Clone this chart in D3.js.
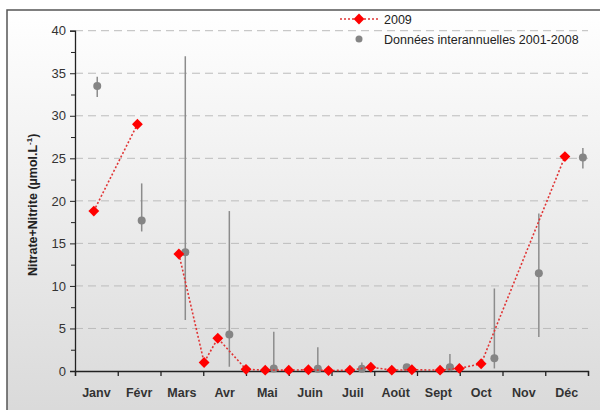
<!DOCTYPE html>
<html>
<head>
<meta charset="utf-8">
<script src="https://cdn.jsdelivr.net/npm/d3@7"></script>
<style>
  html, body { margin: 0; padding: 0; background: #fff; }
  svg { display: block; font-family: "Liberation Sans", Arial, sans-serif; }
</style>
</head>
<body>
<svg id="chart" width="600" height="410"></svg>
<script>
// ---- data ----
const monthLabels = ["Janv","Févr","Mars","Avr","Mai","Juin","Juil","Août","Sept","Oct","Nov","Déc"];
const yTicks = [0,5,10,15,20,25,30,35,40];

// 2009 series (month position, value); null = gap in line
const t2009 = [0.44, 1.46, 2.0, 2.43, 3.02, 3.34, 4.0, 4.45, 5.0, 5.46, 5.93, 6.43, 6.92, 7.41, 7.88, 8.54, 8.99, 9.50, 11.46];
const v2009 = [18.8, 29.0, null, 13.75, 1.0, 3.85, 0.2, 0.1, 0.1, 0.15, 0.05, 0.1, 0.45, 0.1, 0.15, 0.1, 0.3, 0.85, 25.2];

// interannual data 2001-2008 (month position, mean, min, max)
const tClim = [0.52, 1.56, 2.58, 3.61, 4.65, 5.68, 6.71, 7.76, 8.77, 9.81, 10.85, 11.88];
const meanClim = [33.5, 17.7, 13.95, 4.3, 0.3, 0.25, 0.25, 0.45, 0.45, 1.5, 11.5, 25.1];
const loClim = [32.2, 16.4, 6.0, 0.5, 0.1, 0.1, 0.1, 0.2, 0.2, 0.3, 4.0, 23.8];
const hiClim = [34.6, 22.05, 37.0, 18.8, 4.6, 2.8, 1.0, 0.8, 2.0, 9.7, 18.5, 26.2];

const legendLabels = ["2009", "Données interannuelles 2001-2008"];

// ---- layout ----
const svg = d3.select("#chart");
const x = d3.scaleLinear().domain([0, 12]).range([75, 588]);
const y = d3.scaleLinear().domain([0, 40]).range([371, 30.7]);

// background gradient frame
const defs = svg.append("defs");
const grad = defs.append("linearGradient").attr("id", "bg").attr("x1", 0).attr("y1", 0).attr("x2", 0).attr("y2", 1);
grad.append("stop").attr("offset", "0%").attr("stop-color", "#ffffff");
grad.append("stop").attr("offset", "100%").attr("stop-color", "#d9d9d9");
svg.append("rect").attr("x", 7).attr("y", 10).attr("width", 600).attr("height", 410)
  .attr("fill", "url(#bg)").attr("stroke", "#555").attr("stroke-width", 1.5);

// grid lines
svg.append("g").selectAll("line").data(yTicks.filter(d => d > 0)).join("line")
  .attr("x1", x(0)).attr("x2", x(12))
  .attr("y1", d => y(d)).attr("y2", d => y(d))
  .attr("stroke", "#bcbcbc").attr("stroke-width", 1).attr("stroke-dasharray", "8,5");

// y axis
const yAxis = d3.axisLeft(y).tickValues(yTicks).tickSize(5).tickPadding(4).tickFormat(d3.format("d"));
const yg = svg.append("g").attr("transform", `translate(${x(0)},0)`).call(yAxis);
yg.select(".domain").attr("stroke", "#222").attr("stroke-width", 1.3);
yg.selectAll(".tick line").attr("stroke", "#222");
yg.selectAll("text").attr("font-size", 13).attr("fill", "#333");
// minor ticks
const yMinor = d3.axisLeft(y).tickValues(d3.range(2.5, 40, 5)).tickSize(4).tickFormat("");
const ym = svg.append("g").attr("transform", `translate(${x(0)},0)`).call(yMinor);
ym.select(".domain").remove();
ym.selectAll(".tick line").attr("stroke", "#222");

// x axis
const xAxis = d3.axisBottom(x).tickValues(d3.range(0, 13)).tickSize(5).tickFormat("");
const xg = svg.append("g").attr("transform", `translate(0,${y(0)})`).call(xAxis);
xg.select(".domain").attr("stroke", "#222").attr("stroke-width", 1.3);
xg.selectAll(".tick line").attr("stroke", "#222").attr("stroke-width", 1.3);
svg.append("g").selectAll("text").data(monthLabels).join("text")
  .attr("x", (d, i) => x(i + 0.5)).attr("y", 397)
  .attr("text-anchor", "middle").attr("font-size", 12.5).attr("font-weight", "bold")
  .attr("fill", "#333").text(d => d);

// y axis title
const yt = svg.append("text")
  .attr("transform", `translate(37,${y(20) + 4}) rotate(-90)`)
  .attr("text-anchor", "middle").attr("font-size", 12.5).attr("font-weight", "bold").attr("fill", "#222");
yt.append("tspan").text("Nitrate+Nitrite (µmol.L");
yt.append("tspan").attr("dy", -5).attr("font-size", 8).text("-1");
yt.append("tspan").attr("dy", 5).text(")");

// interannual error bars & points
const clim = tClim.map((t, i) => ({t, m: meanClim[i], lo: loClim[i], hi: hiClim[i]}));
svg.append("g").selectAll("line").data(clim).join("line")
  .attr("x1", d => x(d.t)).attr("x2", d => x(d.t))
  .attr("y1", d => y(d.lo)).attr("y2", d => y(d.hi))
  .attr("stroke", "#8c8c8c").attr("stroke-width", 1.5);
svg.append("g").selectAll("circle").data(clim).join("circle")
  .attr("cx", d => x(d.t)).attr("cy", d => y(d.m)).attr("r", 4)
  .attr("fill", "#858585");

// 2009 line and diamonds
const s2009 = t2009.map((t, i) => ({t, v: v2009[i]}));
const line = d3.line().defined(d => d.v !== null).x(d => x(d.t)).y(d => y(d.v));
svg.append("path").datum(s2009).attr("d", line)
  .attr("fill", "none").attr("stroke", "#e03535").attr("stroke-width", 1.6)
  .attr("stroke-dasharray", "2,2");
const diamond = d3.symbol().type(d3.symbolDiamond2).size(75);
svg.append("g").selectAll("path").data(s2009.filter(d => d.v !== null)).join("path")
  .attr("transform", d => `translate(${x(d.t)},${y(d.v)})`)
  .attr("d", diamond).attr("fill", "#ff0000");

// legend
const lg = svg.append("g");
lg.append("line").attr("x1", 340).attr("x2", 380).attr("y1", 19).attr("y2", 19)
  .attr("stroke", "#e03535").attr("stroke-width", 1.6).attr("stroke-dasharray", "2,2");
lg.append("path").attr("transform", "translate(359,19)").attr("d", diamond).attr("fill", "#ff0000");
lg.append("circle").attr("cx", 359).attr("cy", 39).attr("r", 3.5).attr("fill", "#858585");
lg.selectAll("text").data(legendLabels).join("text")
  .attr("x", 384).attr("y", (d, i) => 23.5 + i * 20)
  .attr("font-size", 12.5).attr("fill", "#222").text(d => d);
</script>
</body>
</html>
